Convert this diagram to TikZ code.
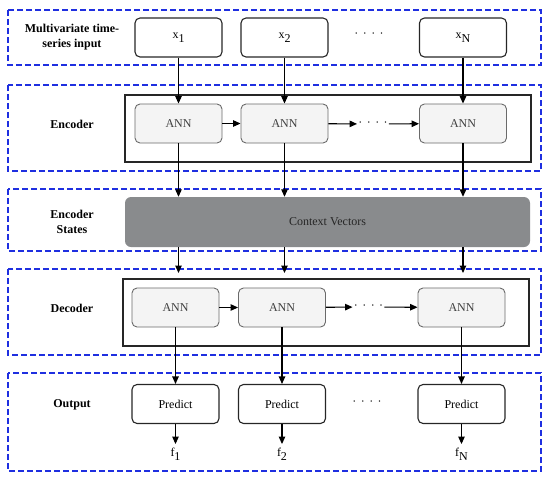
\documentclass[tikz,border=0pt]{standalone}
\usepackage{fontspec}
\setmainfont{Liberation Serif}
\usetikzlibrary{arrows.meta}
\usetikzlibrary{positioning}
\usetikzlibrary{calc}

\definecolor{dashblue}{HTML}{1F2FE0}
\definecolor{annfill}{HTML}{F4F4F4}
\definecolor{annline}{HTML}{6A6A6A}
\definecolor{ctxfill}{HTML}{898B8D}

\newcommand{\fourdots}{\textperiodcentered\hspace{4.5pt}\textperiodcentered\hspace{4.5pt}\textperiodcentered\hspace{4.5pt}\textperiodcentered}
\newcommand{\lsub}[1]{\raisebox{-4pt}{#1}}

\begin{document}
\begin{tikzpicture}[x=1pt, y=-1pt, font=\fontsize{12}{15}\selectfont,
    stage/.style={draw=dashblue, line width=1.6pt, dash pattern=on 6pt off 3pt},
    frame/.style={draw=black!85, line width=1.3pt},
    io/.style={draw=black!85, line width=1.1pt, rounded corners=5pt, minimum width=87pt, minimum height=39pt},
    ann/.style={draw=annline, fill=annfill, line width=0.9pt, rounded corners=5pt, minimum width=87pt, minimum height=39pt, text=black!75},
    hdr/.style={font=\fontsize{12}{15}\selectfont\bfseries, align=center},
    arr/.style={-{Triangle[length=7.5pt,width=6.5pt]}, line width=1.1pt}]
        \useasboundingbox (0,0) rectangle (550,483);

        % Stages
        \draw[stage] (8,10) rectangle (541,65);
        \draw[stage] (8,85) rectangle (541,171);
        \draw[stage] (8,189) rectangle (541,251);
        \draw[stage] (8,269) rectangle (541,355);
        \draw[stage] (8,373) rectangle (541,471);

        % Stage labels
        \node[hdr] (lin) at (72,37) {Multivariate time-\\series input};
        \node[hdr] (lenc) at (72,124) {Encoder};
        \node[hdr] (lst) at (72,222) {Encoder\\States};
        \node[hdr] (ldec) at (72,308) {Decoder};
        \node[hdr] (lout) at (72,405) {Output};

        % Input
        \node[io] (x1) at (178.5,37.5) {x\lsub{1}};
        \node[io] (x2) at (284.5,37.5) {x\lsub{2}};
        \node[io] (xN) at (463,37.5) {x\lsub{N}};
        \node (xd) at (369,35) {\fourdots};

        % Encoder
        \draw[frame] (125,95) rectangle (531,162);
        \node[ann] (e1) at (178.5,123.5) {ANN};
        \node[ann] (e2) at (284.5,123.5) {ANN};
        \node[ann] (eN) at (463,123.5) {ANN};
        \node[inner sep=1pt] (ed) at (373,124) {\fourdots};
        \draw[arr] (e1) -- (e2);
        \draw[arr] (e2) -- (ed);
        \draw[arr] (ed) -- (eN);

        % Encoder states
        \node[fill=ctxfill, rounded corners=6pt, minimum width=405pt, minimum height=50pt, text=black!85] (ctx) at (327.5,222) {Context Vectors};
        \coordinate (dtop) at (0,273);

        % Decoder
        \draw[frame] (123,279) rectangle (529,346);
        \node[ann] (d1) at (175.5,307.5) {ANN};
        \node[ann] (d2) at (282,307.5) {ANN};
        \node[ann] (dN) at (461.5,307.5) {ANN};
        \node[inner sep=1pt] (dd) at (368.5,307) {\fourdots};
        \draw[arr] (d1) -- (d2);
        \draw[arr] (d2) -- (dd);
        \draw[arr] (dd) -- (dN);

        % Output
        \node[io] (p1) at (175.5,404) {Predict};
        \node[io] (p2) at (282,404) {Predict};
        \node[io] (pN) at (461.5,404) {Predict};
        \node (pd) at (367,403) {\fourdots};
        \node[below=20pt of p1, anchor=north] (f1) {f\lsub{1}};
        \node[below=20pt of p2, anchor=north] (f2) {f\lsub{2}};
        \node[below=20pt of pN, anchor=north] (fN) {f\lsub{N}};

        % Connections
        \foreach \n in {1,2,N} {
            \draw[arr] (x\n) -- (e\n); % into encoder
            \draw[arr] (e\n) -- (e\n |- ctx.north); % to context
            \draw[arr] (e\n |- ctx.south) -- (e\n |- dtop); % to decoder
            \draw[arr] (d\n) -- (p\n); % to predict
            \draw[arr] (p\n) -- (f\n); % forecast
        }
\end{tikzpicture}
\end{document}
